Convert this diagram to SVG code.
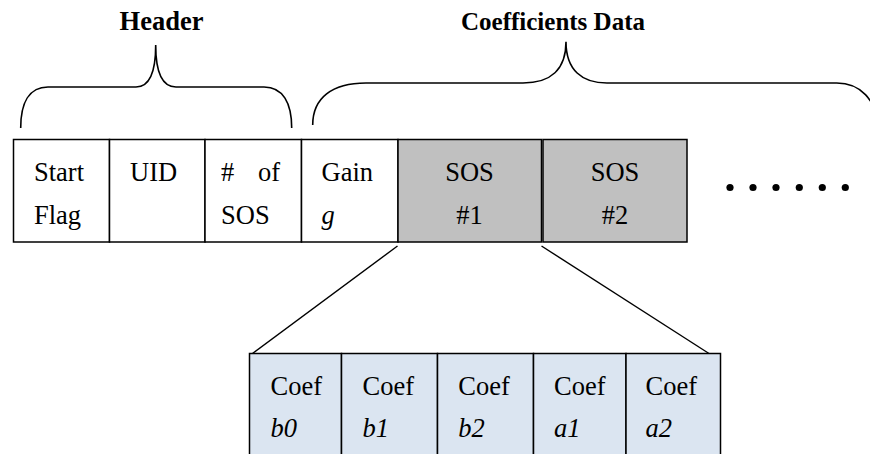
<svg xmlns="http://www.w3.org/2000/svg" width="870" height="454" viewBox="0 0 870 454">
  <style>
    .cell { stroke: #000; stroke-width: 1.5; fill: #fff; }
    .sos { fill: #c0c0c0; }
    .coef { fill: #dbe5f1; }
    .txt { font-family: "Liberation Serif", "Times New Roman", serif; font-size: 26.5px; fill: #000; }
    .it { font-style: italic; }
    .mid { text-anchor: middle; }
    .head { font-family: "Liberation Serif", "Times New Roman", serif; font-size: 25px; font-weight: bold; fill: #000; text-anchor: middle; }
    .big { font-size: 26.5px; }
    .brace { fill: none; stroke: #000; stroke-width: 1.6; }
    .link { fill: none; stroke: #000; stroke-width: 1.4; }
  </style>
  <rect width="870" height="454" fill="#fff"/>

  <!-- section headings with braces -->
  <g id="header-label">
    <text class="head big" x="161.5" y="30">Header</text>
    <path class="brace" d="M20.7,128 C20.7,103 29,87 48,87 L136,87 C149,87 155.7,72 155.7,45 C155.7,72 162,87 176,87 L264,87 C283,87 291.7,103 291.7,128"/>
  </g>
  <g id="coefficients-label">
    <text class="head" x="553" y="30">Coefficients Data</text>
    <path class="brace" d="M312.7,125 C312.7,98 332,83 366,83 L523,83 C550,83 566,70 566,41.7 C566,70 582,83 607,83 L836.7,83 C860,83 876.7,100 876.7,125"/>
  </g>

  <!-- frame fields -->
  <g id="start-flag">
    <rect class="cell" x="13.5" y="139.5" width="96" height="102.5"/>
    <text class="txt" x="34" y="181">Start</text>
    <text class="txt" x="34" y="224">Flag</text>
  </g>
  <g id="uid">
    <rect class="cell" x="109.5" y="139.5" width="95.5" height="102.5"/>
    <text class="txt" x="130" y="181">UID</text>
  </g>
  <g id="num-sos">
    <rect class="cell" x="205" y="139.5" width="96.5" height="102.5"/>
    <text class="txt" x="221" y="181" word-spacing="17">#  of</text>
    <text class="txt" x="221" y="224">SOS</text>
  </g>
  <g id="gain">
    <rect class="cell" x="301.5" y="139.5" width="96.5" height="102.5"/>
    <text class="txt" x="321.5" y="181">Gain</text>
    <text class="txt it" x="321.5" y="224">g</text>
  </g>
  <g id="sos-1">
    <rect class="cell sos" x="398" y="139.5" width="143.5" height="102.5"/>
    <text class="txt mid" x="469.5" y="181">SOS</text>
    <text class="txt mid" x="469.5" y="224">#1</text>
  </g>
  <g id="sos-2">
    <rect class="cell sos" x="543" y="139.5" width="144" height="102.5"/>
    <text class="txt mid" x="615" y="181">SOS</text>
    <text class="txt mid" x="615" y="224">#2</text>
  </g>
  <g id="ellipsis" fill="#000">
    <circle cx="730" cy="187.5" r="3.6"/>
    <circle cx="753" cy="187.5" r="3.6"/>
    <circle cx="776" cy="187.5" r="3.6"/>
    <circle cx="799.3" cy="187.5" r="3.6"/>
    <circle cx="822.3" cy="187.5" r="3.6"/>
    <circle cx="845.3" cy="187.5" r="3.6"/>
  </g>

  <!-- expansion of one SOS block -->
  <g id="connectors">
    <line class="link" x1="397.5" y1="246" x2="252.5" y2="353.5"/>
    <line class="link" x1="541.5" y1="246" x2="709" y2="353.5"/>
  </g>

  <g id="coef-b0">
    <rect class="cell coef" x="249.5" y="353.5" width="92" height="110"/>
    <text class="txt" x="270.5" y="395">Coef</text>
    <text class="txt it" x="270.5" y="437">b0</text>
  </g>
  <g id="coef-b1">
    <rect class="cell coef" x="341.5" y="353.5" width="96" height="110"/>
    <text class="txt" x="362.5" y="395">Coef</text>
    <text class="txt it" x="362.5" y="437">b1</text>
  </g>
  <g id="coef-b2">
    <rect class="cell coef" x="437.5" y="353.5" width="96" height="110"/>
    <text class="txt" x="458.3" y="395">Coef</text>
    <text class="txt it" x="458.3" y="437">b2</text>
  </g>
  <g id="coef-a1">
    <rect class="cell coef" x="533.5" y="353.5" width="92.5" height="110"/>
    <text class="txt" x="554" y="395">Coef</text>
    <text class="txt it" x="554" y="437">a1</text>
  </g>
  <g id="coef-a2">
    <rect class="cell coef" x="626" y="353.5" width="94.5" height="110"/>
    <text class="txt" x="645.5" y="395">Coef</text>
    <text class="txt it" x="645.5" y="437">a2</text>
  </g>
</svg>
